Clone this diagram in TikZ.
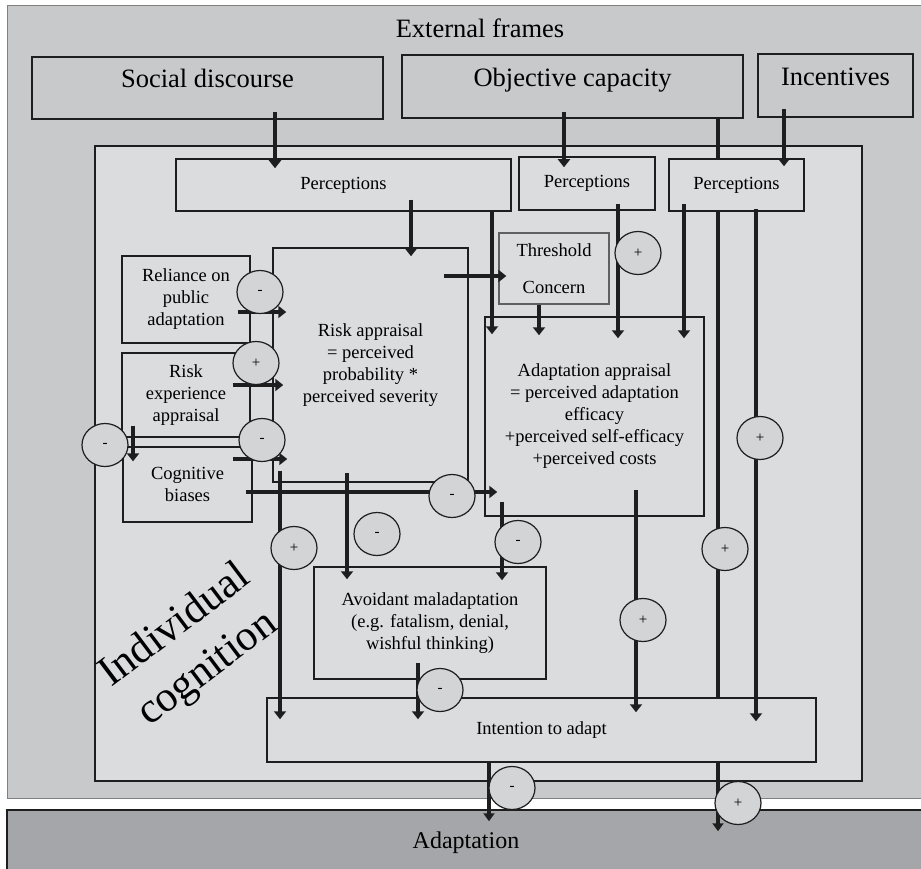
\documentclass[tikz,border=0pt]{standalone}
\usepackage{fontspec}
\setmainfont{Liberation Serif}
\usetikzlibrary{arrows.meta,shapes.geometric,calc}
\definecolor{extc}{HTML}{C8C9CB}
\definecolor{cogc}{HTML}{DBDCDE}
\definecolor{adc}{HTML}{A5A6A9}
\definecolor{circc}{HTML}{D3D4D6}
\definecolor{ink}{HTML}{1E1E1E}
\begin{document}
\begin{tikzpicture}[x=1pt,y=-1pt,
  bigbox/.style={draw=ink, line width=1.6pt, fill=extc, inner sep=0pt, text height=18pt, text depth=18pt, font=\fontsize{26.5}{30}\selectfont},
  box/.style={draw=ink, line width=1.5pt, fill=cogc, inner sep=0pt, align=center, font=\fontsize{18.5}{22}\selectfont},
  arr/.style={draw=ink, line width=4.5pt, -{Triangle[width=12pt,length=8pt]}},
  thinarr/.style={draw=ink, line width=3.8pt, -{Triangle[width=11pt,length=8pt]}},
  bar/.style={draw=ink, line width=4.5pt},
  sign/.style={ellipse, draw=ink, line width=1.2pt, fill=circc, minimum width=46pt, minimum height=43pt, inner sep=0pt, font=\fontsize{15}{15}\selectfont}
]
\useasboundingbox (0,0) rectangle (921,869);
\fill[white] (0,0) rectangle (921,869);
% frames
\node[draw=gray, line width=1pt, fill=extc, minimum width=918pt, minimum height=792pt, inner sep=0pt] (ext) at (466,402) {};
\node[anchor=base, font=\fontsize{26.5}{30}\selectfont] (exttitle) at (480,38) {External frames};
\node[draw=ink, line width=1.5pt, fill=adc, minimum width=918pt, minimum height=65pt, inner sep=0pt, font=\fontsize{24}{28}\selectfont] (adapt) at (466,842.5) {Adaptation};
\node[draw=ink, line width=1.6pt, fill=cogc, minimum width=767pt, minimum height=635pt, inner sep=0pt] (cog) at (478.5,463.5) {};
% external boxes
\node[bigbox, minimum width=351pt, minimum height=62pt] (sd) at (207.5,88) {Social discourse};
\node[bigbox, minimum width=341pt, minimum height=63pt] (oc) at (572.5,86.5) {Objective capacity};
\node[bigbox, minimum width=155pt, minimum height=63pt] (inc) at (835.5,85.5) {Incentives};
% intention
\node[box, minimum width=549pt, minimum height=64pt] (intent) at (541.5,730) {Intention to adapt};
% x / y helper coordinates
\coordinate (xA) at (275,0);
\coordinate (xB) at (564,0);
\coordinate (xC) at (718,0);
\coordinate (xD) at (784,0);
\coordinate (xE) at (411,0);
\coordinate (xF) at (492,0);
\coordinate (xH) at (539,0);
\coordinate (xI) at (618,0);
\coordinate (xJ) at (684,0);
\coordinate (xK) at (756,0);
\coordinate (xO) at (133,0);
\coordinate (xQ) at (280,0);
\coordinate (xR) at (347,0);
\coordinate (xS) at (502,0);
\coordinate (xT) at (636,0);
\coordinate (xU) at (418,0);
\coordinate (xV) at (489,0);
\coordinate (yG) at (0,276);
\coordinate (yL) at (0,312);
\coordinate (yM) at (0,385);
\coordinate (yN) at (0,459);
\coordinate (yP) at (0,492);
% line behind perceptions 3
\draw[bar] (oc.south -| xC) -- (intent.north -| xC);
% inner boxes
\node[box, minimum width=335pt, minimum height=52pt] (p1) at (343.5,185) {Perceptions};
\node[box, minimum width=136pt, minimum height=53pt] (p2) at (587,183.5) {Perceptions};
\node[box, minimum width=135pt, minimum height=52pt] (p3) at (736.5,185) {Perceptions};
\node[box, line width=1.3pt, minimum width=128pt, minimum height=87pt] (rel) at (186,299.5) {Reliance on\\public\\adaptation};
\node[box, line width=1.3pt, minimum width=128pt, minimum height=84pt] (re) at (186,395) {Risk\\experience\\appraisal};
\node[box, line width=1.3pt, minimum width=129pt, minimum height=75pt] (cb) at (187.5,484.5) {Cognitive\\biases};
\node[box, minimum width=195pt, minimum height=234pt] (ra) at (370.5,365) {Risk appraisal\\= perceived\\probability *\\perceived severity};
\node[box, draw=gray!75!black, line width=1.3pt, minimum width=110pt, minimum height=71pt] (thr) at (554,268.5) {Threshold\\[15pt]Concern};
\node[box, minimum width=219pt, minimum height=199pt] (aa) at (594.5,416.5) {Adaptation appraisal\\= perceived adaptation\\efficacy\\+perceived self-efficacy\\+perceived costs};
\node[box, minimum width=232pt, minimum height=112pt] (av) at (430,623) {Avoidant maladaptation\\(e.g. fatalism, denial,\\wishful thinking)};
\node[rotate=37, align=center, font=\fontsize{43}{54}\selectfont] (ic) at (192,648) {Individual\\cognition};
% connectors
\draw[arr] ($(sd.south -| xA)+(0,-8)$) -- ($(p1.north -| xA)+(0,10)$);
\draw[arr] ($(oc.south -| xB)+(0,-7)$) -- ($(p2.north -| xB)+(0,11)$);
\draw[arr] ($(inc.south -| xD)+(0,-9)$) -- ($(p3.north -| xD)+(0,8)$);
\draw[arr] ($(p1.south -| xE)+(0,-12)$) -- ($(ra.north -| xE)+(0,9)$);
\draw[arr] (p1.south -| xF) -- ($(aa.north -| xF)+(0,18)$);
\draw[arr] ($(ra.east |- yG)+(-25,0)$) -- ($(thr.west |- yG)+(8,0)$);
\draw[arr] (thr.south -| xH) -- ($(aa.north -| xH)+(0,19)$);
\draw[arr] ($(p2.south -| xI)+(0,-7)$) -- ($(aa.north -| xI)+(0,22)$);
\draw[arr] ($(p3.south -| xJ)+(0,-8)$) -- ($(aa.north -| xJ)+(0,22)$);
\draw[arr] ($(p3.south -| xK)+(0,-3)$) -- ($(intent.north -| xK)+(0,24)$);
\draw[arr] ($(rel.east |- yL)+(-13,0)$) -- ($(ra.west |- yL)+(14,0)$);
\draw[arr] ($(re.east |- yM)+(-18,0)$) -- ($(ra.west |- yM)+(11,0)$);
\draw[arr] ($(cb.east |- yN)+(-20,0)$) -- ($(ra.west |- yN)+(15,0)$);
\draw[arr] ($(re.south -| xO)+(0,-12)$) -- ($(cb.north -| xO)+(0,15)$);
\draw[arr] ($(cb.east |- yP)+(-7,0)$) -- ($(aa.west |- yP)+(13,0)$);
\draw[arr] ($(ra.south -| xQ)+(0,-12)$) -- ($(intent.north -| xQ)+(0,22)$);
\draw[arr] ($(ra.south -| xR)+(0,-10)$) -- ($(av.north -| xR)+(0,13)$);
\draw[arr] ($(aa.south -| xS)+(0,-15)$) -- ($(av.north -| xS)+(0,14)$);
\draw[arr] ($(aa.south -| xT)+(0,-27)$) -- ($(intent.north -| xT)+(0,15)$);
\draw[arr] ($(av.south -| xU)+(0,-17)$) -- ($(intent.north -| xU)+(0,22)$);
\draw[thinarr] (intent.south -| xV) -- ($(adapt.north -| xV)+(0,12)$);
\draw[thinarr] (intent.south -| xC) -- ($(adapt.north -| xC)+(0,22)$);
% signs
\node[sign] (s1) at (638,253) {+};
\node[sign] (s2) at (760,438) {+};
\node[sign] (s3) at (725,549) {+};
\node[sign] (s4) at (260,292) {-};
\node[sign] (s5) at (256,363) {+};
\node[sign] (s6) at (262,440) {-};
\node[sign] (s7) at (105,445) {-};
\node[sign] (s8) at (452,496) {-};
\node[sign] (s9) at (294,548) {+};
\node[sign] (s10) at (377,534) {-};
\node[sign] (s11) at (518,542) {-};
\node[sign] (s12) at (643,620) {+};
\node[sign] (s13) at (440,690) {-};
\node[sign] (s14) at (512,788) {-};
\node[sign] (s15) at (738,803) {+};
\end{tikzpicture}
\end{document}
